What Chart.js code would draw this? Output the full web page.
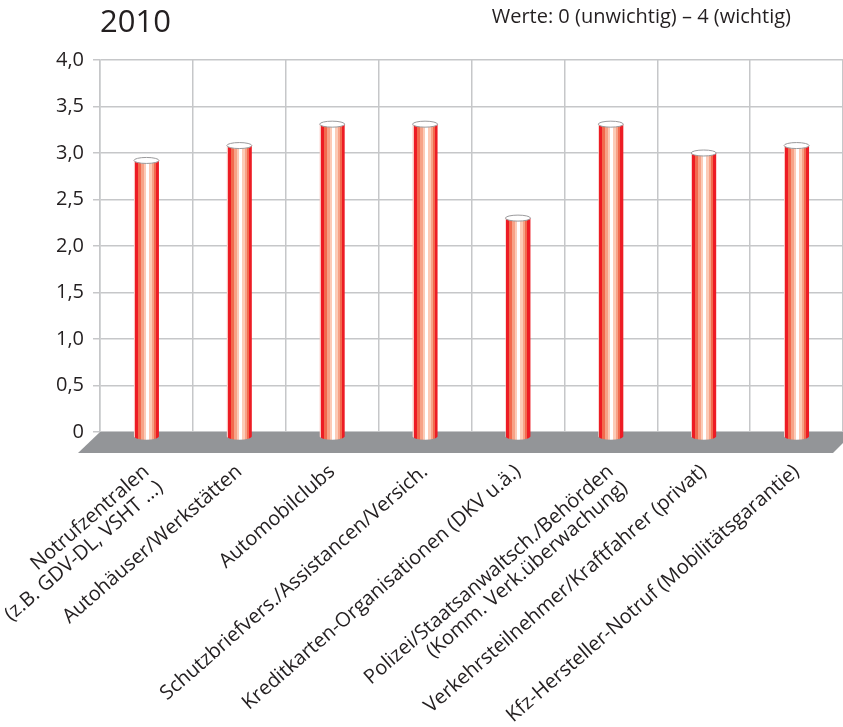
<!DOCTYPE html>
<html>
<head>
<meta charset="utf-8">
<script src="https://cdn.jsdelivr.net/npm/chart.js@4"></script>
<style>
  html, body { margin: 0; padding: 0; background: #fff; }
</style>
</head>
<body>
<canvas id="chart" width="843" height="727"></canvas>
<script>
// Data
const categories = [
    ['Notrufzentralen', '(z.B. GDV-DL, VSHT ...)'],
    'Autohäuser/Werkstätten',
    'Automobilclubs',
    'Schutzbriefvers./Assistancen/Versich.',
    'Kreditkarten-Organisationen (DKV u.ä.)',
    ['Polizei/Staatsanwaltsch./Behörden', '(Komm. Verk.überwachung)'],
    'Verkehrsteilnehmer/Kraftfahrer (privat)',
    'Kfz-Hersteller-Notruf (Mobilitätsgarantie)'
];
const values = [2.92, 3.08, 3.31, 3.31, 2.30, 3.31, 3.00, 3.08];
const yTicks = [0, 0.5, 1, 1.5, 2, 2.5, 3, 3.5, 4];
const titleText = '2010';
const noteText = 'Werte: 0 (unwichtig) – 4 (wichtig)';

const textColor = '#231f20';
const gridColor = '#c6c7c9';

// stripes across the tube, left to right: [from, to, colour] in px of a 25px tube
const stripes = [
    [0, 1, '#f9c6c0'],
    [1, 4, '#ed1c24'],
    [4, 7, '#f26a4e'],
    [7, 10, '#f7a287'],
    [10, 12, '#fccbb7'],
    [12, 15, '#ffffff'],
    [15, 18, '#fccbb7'],
    [18, 20, '#f7a287'],
    [20, 22, '#f26a4e'],
    [22, 25, '#ed1c24']
];

// grey floor under the plot and cylinder bars
const floorAndTubes = {
    id: 'floorAndTubes',
    beforeDatasetsDraw(chart) {
        const { ctx, chartArea: a } = chart;
        const y0 = chart.scales.y.getPixelForValue(0);
        ctx.save();
        ctx.fillStyle = '#939598';
        ctx.beginPath();
        ctx.moveTo(a.left, y0);
        ctx.lineTo(a.right + 11, y0);
        ctx.lineTo(a.right - 10, y0 + 21);
        ctx.lineTo(a.left - 22, y0 + 21);
        ctx.closePath();
        ctx.fill();
        ctx.restore();
    },
    afterDatasetsDraw(chart) {
        const ctx = chart.ctx;
        const meta = chart.getDatasetMeta(0);
        ctx.save();
        meta.data.forEach(bar => {
            const w = bar.width;
            const x0 = bar.x - w / 2;
            const top = bar.y;
            const bot = bar.base + 5;
            const g = ctx.createLinearGradient(x0, 0, x0 + w, 0);
            stripes.forEach(s => {
                g.addColorStop(s[0] / 25, s[2]);
                g.addColorStop(Math.min(s[1] / 25, 1), s[2]);
            });
            ctx.fillStyle = g;
            ctx.beginPath();
            ctx.moveTo(x0, top);
            ctx.lineTo(x0, bot);
            ctx.ellipse(bar.x, bot, w / 2, 3.5, 0, Math.PI, 0, true);
            ctx.lineTo(x0 + w, top);
            ctx.closePath();
            ctx.fill();

            ctx.beginPath();
            ctx.ellipse(bar.x, top, w / 2, 3, 0, 0, Math.PI * 2);
            ctx.fillStyle = '#ffffff';
            ctx.fill();
            ctx.strokeStyle = '#9a9a9c';
            ctx.lineWidth = 1;
            ctx.stroke();
        });
        ctx.restore();
    }
};

// year and scale note above the plot
const headings = {
    id: 'headings',
    afterDraw(chart) {
        const { ctx, chartArea: a } = chart;
        ctx.save();
        ctx.fillStyle = textColor;
        ctx.textBaseline = 'alphabetic';
        ctx.font = '31px "Open Sans"';
        ctx.textAlign = 'left';
        ctx.fillText(titleText, a.left, 32);
        ctx.font = '20px "Open Sans"';
        ctx.textAlign = 'right';
        ctx.fillText(noteText, a.right - 52, 23);
        ctx.restore();
    }
};

const ctx = document.getElementById('chart').getContext('2d');
const chart = new Chart(ctx, {
    type: 'bar',
    data: {
        labels: categories,
        datasets: [{
            data: values,
            backgroundColor: 'rgba(0,0,0,0)',
            borderWidth: 0,
            barThickness: 25
        }]
    },
    options: {
        responsive: false,
        animation: false,
        layout: { padding: { top: 60, left: 0, right: 0, bottom: 0 } },
        plugins: {
            legend: { display: false },
            tooltip: { enabled: false }
        },
        scales: {
            x: {
                grid: { offset: true, color: gridColor, lineWidth: 1.5, drawTicks: false },
                border: { display: false },
                ticks: {
                    autoSkip: false,
                    minRotation: 41,
                    maxRotation: 41,
                    padding: 29,
                    color: textColor,
                    font: { family: 'Open Sans', size: 20, lineHeight: 1.05 }
                },
                afterFit(scale) {
                    scale.height = 295;
                    scale.paddingLeft = 0;
                    scale.paddingRight = 0;
                }
            },
            y: {
                min: 0,
                max: 4,
                afterBuildTicks(scale) {
                    scale.ticks = yTicks.map(v => ({ value: v }));
                },
                grid: { color: gridColor, lineWidth: 1.5, tickLength: 7 },
                border: { color: gridColor, width: 1.5 },
                ticks: {
                    padding: 9,
                    color: textColor,
                    font: { family: 'Open Sans', size: 20 },
                    callback: v => v === 0 ? '0' : v.toFixed(1).replace('.', ',')
                },
                afterFit(scale) {
                    scale.width = 100;
                }
            }
        }
    },
    plugins: [floorAndTubes, headings]
});
</script>
</body>
</html>
